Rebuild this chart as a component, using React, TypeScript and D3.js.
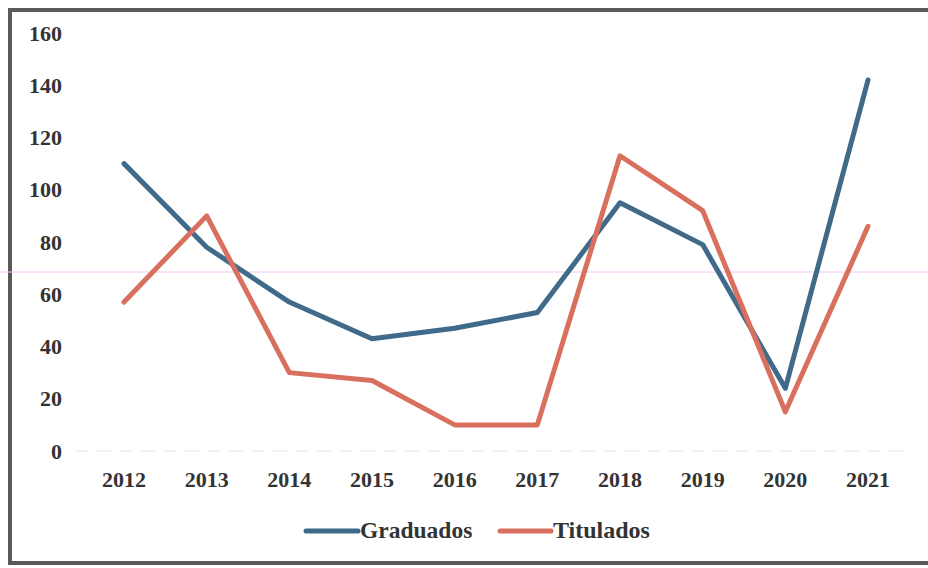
import * as d3 from "d3";

const years = ["2012", "2013", "2014", "2015", "2016", "2017", "2018", "2019", "2020", "2021"];
const graduados = [110, 78, 57, 43, 47, 53, 95, 79, 24, 142];
const titulados = [57, 90, 30, 27, 10, 10, 113, 92, 15, 86];
const yTicks = [0, 20, 40, 60, 80, 100, 120, 140, 160];

const W = 928;
const H = 568;
const FONT = "'Liberation Serif', 'Times New Roman', serif";

export default function App() {
    const x = d3.scalePoint<string>().domain(years).range([124, 868]);
    const y = d3.scaleLinear().domain([0, 160]).range([451, 33]);

    const line = d3
        .line<number>()
        .x((_, i) => x(years[i]) as number)
        .y((d) => y(d));

    const series = [
        { name: "Graduados", values: graduados, color: "#3f6a8a" },
        { name: "Titulados", values: titulados, color: "#d9705f" },
    ];

    return (
        <svg
            width={W}
            height={H}
            style={{ position: "absolute", left: 0, top: 0, background: "#fff" }}
            fontFamily={FONT}
        >
            {/* frame */}
            <rect x={10} y={10} width={W + 20} height={553} fill="none" stroke="#5a5a5a" strokeWidth={4} />

            {/* faint baseline */}
            <line x1={75} x2={910} y1={y(0)} y2={y(0)} stroke="#e4e4e4" strokeWidth={1} strokeDasharray="14 8" />

            {/* y axis labels */}
            {yTicks.map((t) => (
                <text
                    key={t}
                    x={62}
                    y={y(t)}
                    dy="0.35em"
                    textAnchor="end"
                    fontSize={22}
                    fontWeight="bold"
                    fill="#333"
                >
                    {t}
                </text>
            ))}

            {/* x axis labels */}
            {years.map((yr) => (
                <text
                    key={yr}
                    x={x(yr)}
                    y={487}
                    textAnchor="middle"
                    fontSize={22}
                    fontWeight="bold"
                    fill="#333"
                >
                    {yr}
                </text>
            ))}

            {/* scan artifact line */}
            <line x1={0} x2={W} y1={272} y2={272} stroke="#f3c6f0" strokeWidth={1} />

            {/* series */}
            {series.map((s) => (
                <path
                    key={s.name}
                    d={line(s.values) ?? ""}
                    fill="none"
                    stroke={s.color}
                    strokeWidth={5}
                    strokeLinejoin="round"
                    strokeLinecap="round"
                />
            ))}

            {/* legend */}
            <g>
                <line x1={306} x2={358} y1={531} y2={531} stroke={series[0].color} strokeWidth={5} strokeLinecap="round" />
                <text x={360} y={538} fontSize={23.5} fontWeight="bold" fill="#333">
                    Graduados
                </text>
                <line x1={500} x2={551} y1={531} y2={531} stroke={series[1].color} strokeWidth={5} strokeLinecap="round" />
                <text x={553} y={538} fontSize={24} fontWeight="bold" fill="#333">
                    Titulados
                </text>
            </g>
        </svg>
    );
}
